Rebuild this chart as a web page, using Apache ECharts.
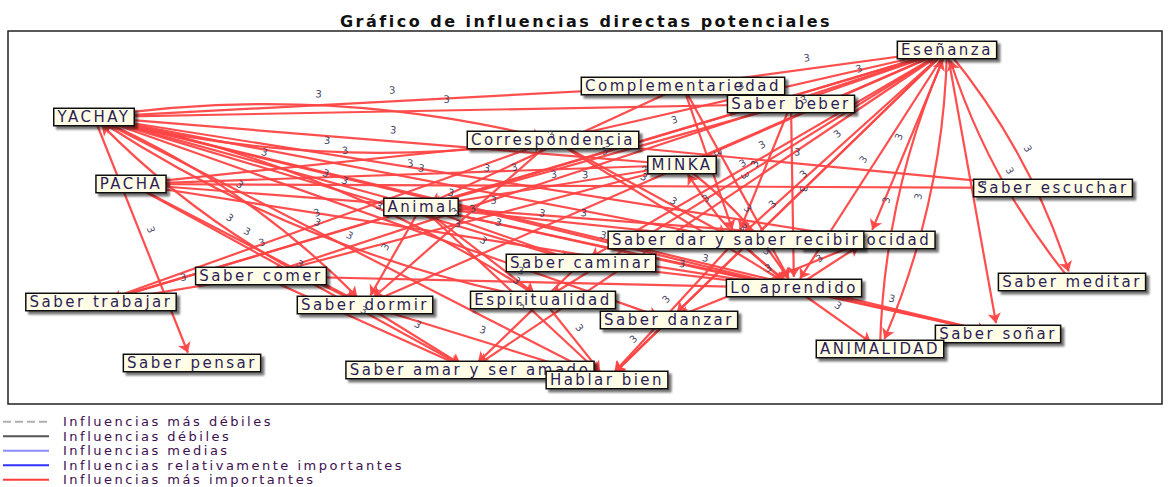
<!DOCTYPE html>
<html>
<head>
<meta charset="utf-8">
<script src="https://cdn.jsdelivr.net/npm/echarts@6/dist/echarts.min.js"></script>
<style>
  html, body { margin: 0; padding: 0; background: #fff; }
  #chart { width: 1172px; height: 487px; letter-spacing: 2.5px; }
</style>
</head>
<body>
<div id="chart"></div>
<script>
// variables of the MICMAC study, in drawing order
const nodeIds = ['ES', 'CO', 'SB', 'YA', 'CR', 'MI', 'PA', 'SE', 'AN', 'RE', 'SD', 'SC',
  'SCo', 'LA', 'SM', 'ST', 'SDo', 'EP', 'SDa', 'SS', 'AL', 'SP', 'SA', 'HB'];
const nodeNames = ['Eseñanza', 'Complementariedad', 'Saber beber', 'YACHAY', 'Correspondencia',
  'MINKA', 'PACHA', 'Saber escuchar', 'Animal', 'Reciprocidad', 'Saber dar y saber recibir',
  'Saber caminar', 'Saber comer', 'Lo aprendido', 'Saber meditar', 'Saber trabajar',
  'Saber dormir', 'Espiritualidad', 'Saber danzar', 'Saber soñar', 'ANIMALIDAD',
  'Saber pensar', 'Saber amar y ser amado', 'Hablar bien'];
// plane coordinates of each variable
const nodeX = [947, 683, 791, 94, 553, 682, 131, 1053, 421, 868, 736, 581,
  261, 794, 1072, 101, 365, 543, 669, 998, 880, 192, 470, 607];
const nodeY = [50, 86, 104, 117, 140, 165, 184, 188, 207, 240, 240, 263,
  276, 288, 282, 302, 305, 300, 320, 334, 349, 363, 370, 380];

// direct influences: [from, to, intensity]
const influences = [
  ['CO', 'ES', 3], ['SB', 'ES', 3], ['CR', 'ES', 3], ['MI', 'ES', 3], ['AN', 'ES', 3],
  ['ST', 'ES', 3], ['SDo', 'ES', 3],
  ['ES', 'SCo', 3], ['ES', 'SC', 3], ['ES', 'SD', 3], ['ES', 'LA', 3], ['ES', 'EP', 3],
  ['ES', 'SA', 3], ['ES', 'HB', 3], ['ES', 'RE', 3], ['ES', 'AL', 3], ['AL', 'ES', 3],
  ['ES', 'SM', 3], ['SM', 'ES', 3], ['ES', 'SS', 3], ['ES', 'SDa', 3],
  ['SB', 'YA', 3], ['CO', 'YA', 3], ['CR', 'YA', 3], ['YA', 'CR', 3], ['MI', 'YA', 3],
  ['AN', 'YA', 3], ['SD', 'YA', 3], ['LA', 'YA', 3], ['SC', 'YA', 3], ['EP', 'YA', 3],
  ['SDo', 'YA', 3], ['RE', 'YA', 3],
  ['YA', 'SP', 3], ['YA', 'HB', 3], ['YA', 'SDo', 3], ['YA', 'EP', 3], ['YA', 'SDa', 3],
  ['YA', 'SS', 3],
  ['MI', 'PA', 3], ['CR', 'PA', 3], ['PA', 'LA', 3], ['PA', 'SE', 3], ['PA', 'SA', 3],
  ['PA', 'SDo', 3], ['PA', 'RE', 3],
  ['SB', 'AN', 3], ['CO', 'AN', 3], ['MI', 'AN', 3], ['SD', 'AN', 3], ['AN', 'ST', 3],
  ['AN', 'EP', 3], ['AN', 'SC', 3], ['AN', 'LA', 3], ['AN', 'SS', 3], ['AN', 'HB', 3],
  ['AN', 'SDo', 3],
  ['MI', 'SCo', 3], ['SCo', 'LA', 3], ['SCo', 'SA', 3], ['SCo', 'ST', 3],
  ['CR', 'SDo', 3], ['SDo', 'HB', 3], ['SDo', 'SA', 3],
  ['SC', 'SA', 3], ['CO', 'SD', 3], ['SB', 'SD', 3], ['CR', 'SD', 3], ['SD', 'HB', 3],
  ['SD', 'LA', 3],
  ['LA', 'MI', 3], ['LA', 'AL', 3], ['LA', 'SS', 3], ['LA', 'RE', 3], ['CO', 'LA', 3],
  ['SB', 'LA', 3], ['CR', 'LA', 3], ['SC', 'LA', 3], ['MI', 'LA', 3],
  ['SDa', 'HB', 3], ['RE', 'SDa', 3], ['CR', 'SE', 3], ['EP', 'HB', 3], ['ST', 'CR', 3]
];

const legendNames = ['Influencias más débiles', 'Influencias débiles', 'Influencias medias',
  'Influencias relativamente importantes', 'Influencias más importantes'];

// the original prints its labels very wide; widen the measured text the same way
const SPACING = 2.5;
const measureCtx = document.createElement('canvas').getContext('2d');
if (echarts.setPlatformAPI) {
  echarts.setPlatformAPI({
    measureText(text, font) {
      measureCtx.font = font || '12px sans-serif';
      const m = measureCtx.measureText(text);
      return {
        width: m.width + SPACING * text.length,
        actualBoundingBoxAscent: m.actualBoundingBoxAscent,
        actualBoundingBoxDescent: m.actualBoundingBoxDescent
      };
    }
  });
}

const FONT = 'DejaVu Sans';
const nameOf = (id) => nodeNames[nodeIds.indexOf(id)];

const nodes = nodeNames.map((name, i) => ({ name, value: [nodeX[i], nodeY[i]] }));
const links = influences.map(([from, to, v]) => {
  const twoWay = influences.some((p) => p[0] === to && p[1] === from);
  return {
    source: nameOf(from),
    target: nameOf(to),
    value: v,
    lineStyle: { curveness: twoWay ? 0.1 : 0 }
  };
});

const legendStyles = [
  { color: '#b0b0b0', width: 1, type: 'dashed' },
  { color: '#555555', width: 1, type: 'solid' },
  { color: '#8c8cff', width: 1.5, type: 'solid' },
  { color: '#3030ff', width: 2.5, type: 'solid' },
  { color: '#ff3b3b', width: 3, type: 'solid' }
];

const chart = echarts.init(document.getElementById('chart'), null, { renderer: 'svg' });

chart.setOption({
  animation: false,
  title: {
    text: 'Gráfico de influencias directas potenciales',
    left: 'center',
    top: 7,
    textStyle: { fontFamily: FONT, fontSize: 16, fontWeight: 'bold', color: '#111' }
  },
  grid: {
    left: 8,
    top: 31,
    width: 1154,
    height: 373,
    show: true,
    borderColor: '#222',
    borderWidth: 1.5,
    backgroundColor: 'transparent'
  },
  xAxis: { type: 'value', min: 8, max: 1162, show: false },
  yAxis: { type: 'value', min: 31, max: 404, inverse: true, show: false },
  // one legend row per intensity class, stacked tightly like the original key
  legend: legendNames.map((name, i) => ({
    left: 2,
    top: 414 + i * 14.5,
    padding: 0,
    itemWidth: 46,
    itemHeight: 12,
    selectedMode: false,
    itemStyle: { opacity: 0 },
    textStyle: { fontFamily: FONT, fontSize: 13, color: '#3d0f4f', padding: [0, 0, 0, 9] },
    data: [name]
  })),
  series: [
    {
      type: 'graph',
      coordinateSystem: 'cartesian2d',
      symbol: 'rect',
      symbolSize: 22,
      itemStyle: { color: 'rgba(0,0,0,0)' },
      edgeSymbol: ['none', 'arrow'],
      edgeSymbolSize: [0, 10],
      lineStyle: { color: '#ff4545', width: 2.2, opacity: 0.95 },
      label: {
        show: true,
        position: 'inside',
        formatter: '{b}',
        fontFamily: FONT,
        fontSize: 15,
        lineHeight: 15,
        color: '#2b1d57',
        backgroundColor: '#fffde6',
        borderColor: '#111',
        borderWidth: 1.5,
        padding: [1, 3, 0, 3],
        shadowColor: 'rgba(0,0,0,0.55)',
        shadowBlur: 2,
        shadowOffsetX: 3,
        shadowOffsetY: 3
      },
      edgeLabel: {
        show: true,
        formatter: '{c}',
        fontFamily: FONT,
        fontSize: 10,
        color: '#333355'
      },
      emphasis: { disabled: true },
      data: nodes,
      links: links
    },
    ...legendNames.map((name, i) => ({
      type: 'line',
      name,
      data: [],
      symbol: 'none',
      itemStyle: { color: legendStyles[i].color, opacity: 0 },
      lineStyle: legendStyles[i]
    }))
  ]
});
</script>
</body>
</html>
